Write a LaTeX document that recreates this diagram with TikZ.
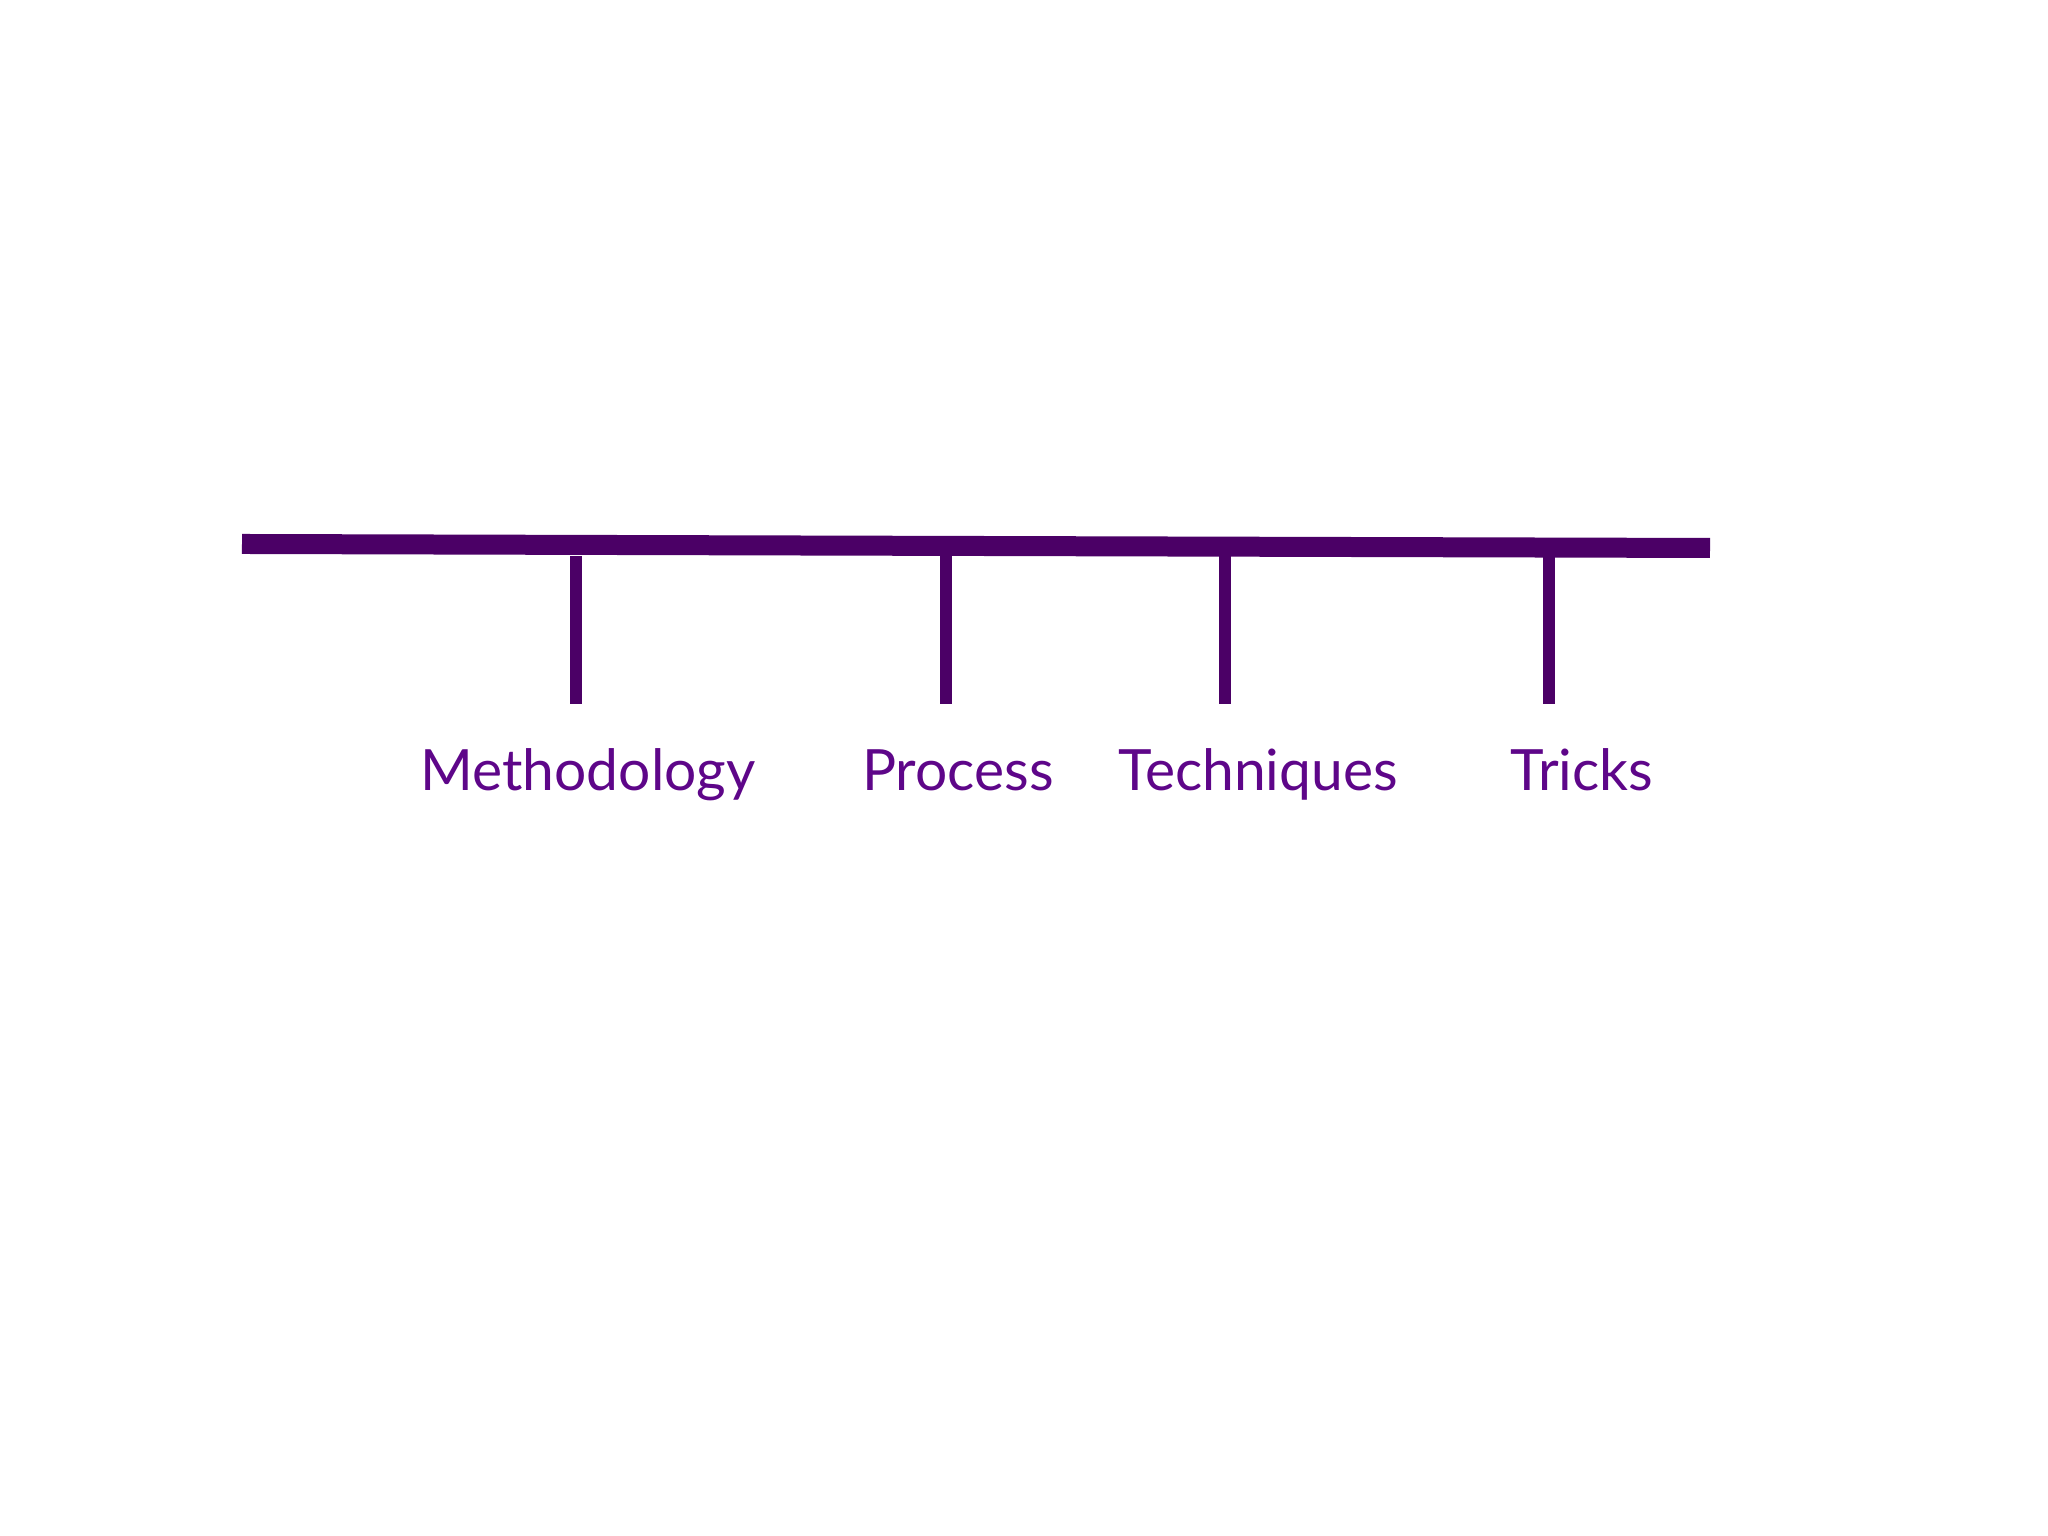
\documentclass[tikz,border=0pt]{standalone}
\usepackage{fontspec}
\setmainfont{Lato}
\usetikzlibrary{positioning}
\definecolor{barpurple}{HTML}{4B0066}
\definecolor{textpurple}{HTML}{5E0689}
\tikzset{
	bar/.style={
		draw=barpurple,
		line width=0.2cm,
		line cap=butt
	},
	tick/.style={
		draw=barpurple,
		line width=0.12cm,
		line cap=butt
	},
	label/.style={
		text=textpurple,
		font=\fontsize{16.2}{19}\selectfont,
		anchor=base,
		inner sep=0pt
	}
}

\begin{document}
\begin{tikzpicture}
	\useasboundingbox (0,0) rectangle (20.48,15.36);
	\coordinate (BarL) at (2.42,9.92);
	\coordinate (BarR) at (17.10,9.88);
	\draw[bar] (BarL) -- (BarR);
	
	\draw node[label] (Methodology) at (5.88,7.45) {Methodology};
	\draw node[label] (Process) at (9.58,7.45) {Process};
	\draw node[label] (Techniques) at (12.58,7.45) {Techniques};
	\draw node[label] (Tricks) at (15.82,7.45) {Tricks};
	
	\foreach \name/\x in {Methodology/5.76, Process/9.46, Techniques/12.25, Tricks/15.49} {
		\coordinate (\name Top) at (\x,9.80);
		\coordinate (\name Foot) at (\x,8.32);
		\draw[tick] (\name Top) -- (\name Foot);
	}
\end{tikzpicture}
\end{document}
